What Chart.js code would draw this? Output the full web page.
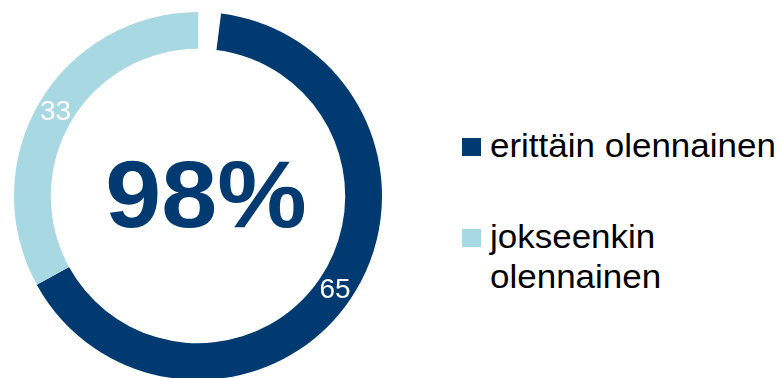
<!DOCTYPE html>
<html>
<head>
  <meta charset="utf-8">
  <script src="https://cdn.jsdelivr.net/npm/chart.js@4.4.0/dist/chart.umd.min.js"></script>
  <style>
    html, body { margin: 0; padding: 0; background: #ffffff; overflow: hidden; width: 779px; height: 378px; }
    .chartBox { position: absolute; left: 0; top: 0; width: 396px; height: 392px; }
    .legend { position: absolute; left: 462px; top: 0; font-family: "Liberation Sans", Arial, sans-serif; font-size: 33px; line-height: 40px; color: #000000; }
    .legendItem { position: absolute; left: 0; width: 300px; }
    .legendBox { position: absolute; left: 0; width: 19px; height: 18px; }
    .legendText { position: absolute; left: 28px; width: 275px; transform: scaleX(1.06); transform-origin: left top; }
  </style>
</head>
<body>

  <div class="chartBox"><canvas id="donutCanvas"></canvas></div>
  <div class="legend" id="legend"></div>

  <script>
    const categories = ['erittäin olennainen', 'jokseenkin olennainen'];
    const values = [65, 33];
    const gapValue = 2;
    const centerLabel = '98%';
    const colors = ['#003a70', '#a8d8e1'];

    // legend built from the same arrays
    const legendTops = [126, 217];
    const legendEl = document.getElementById('legend');
    categories.forEach((name, i) => {
      let item = document.createElement('div');
      item.className = 'legendItem';
      item.style.top = legendTops[i] + 'px';
      item.innerHTML = '<div class="legendBox" style="top:12px;background:' + colors[i] + '"></div>' +
        '<div class="legendText">' + name + '</div>';
      legendEl.appendChild(item);
    });

    // white numbers sitting on each ring segment
    const segmentLabels = {
      id: 'segmentLabels',
      afterDatasetsDraw(chart) {
        const ctx = chart.ctx;
        const meta = chart.getDatasetMeta(0);
        ctx.save();
        ctx.fillStyle = '#ffffff';
        ctx.font = '28px "Liberation Sans", Arial, sans-serif';
        ctx.textAlign = 'center';
        ctx.textBaseline = 'middle';
        meta.data.forEach((arc, i) => {
          if (i === 0) return;
          const pos = arc.tooltipPosition();
          ctx.fillText(values[i - 1], pos.x, pos.y + 1);
        });
        ctx.restore();
      }
    };

    const centerText = {
      id: 'centerText',
      afterDraw(chart) {
        const ctx = chart.ctx;
        const meta = chart.getDatasetMeta(0);
        const arc = meta.data[0];
        ctx.save();
        ctx.fillStyle = colors[0];
        ctx.font = 'bold 94px "Liberation Sans", Arial, sans-serif';
        ctx.textAlign = 'center';
        ctx.textBaseline = 'alphabetic';
        ctx.translate(arc.x + 8, arc.y + 31);
        ctx.scale(1.07, 1);
        ctx.fillText(centerLabel, 0, 0);
        ctx.restore();
      }
    };

    new Chart(document.getElementById('donutCanvas').getContext('2d'), {
      type: 'doughnut',
      data: {
        labels: [''].concat(categories),
        datasets: [{
          data: [gapValue].concat(values),
          backgroundColor: ['rgba(255,255,255,0)'].concat(colors),
          borderWidth: 0,
          hoverOffset: 0,
          offset: 0
        }]
      },
      options: {
        responsive: true,
        maintainAspectRatio: false,
        animation: false,
        events: [],
        cutout: '80%',
        rotation: 0,
        layout: { padding: { left: 14, right: 14, top: 12, bottom: 12 } },
        plugins: {
          legend: { display: false },
          tooltip: { enabled: false }
        }
      },
      plugins: [segmentLabels, centerText]
    });
  </script>

</body>
</html>
